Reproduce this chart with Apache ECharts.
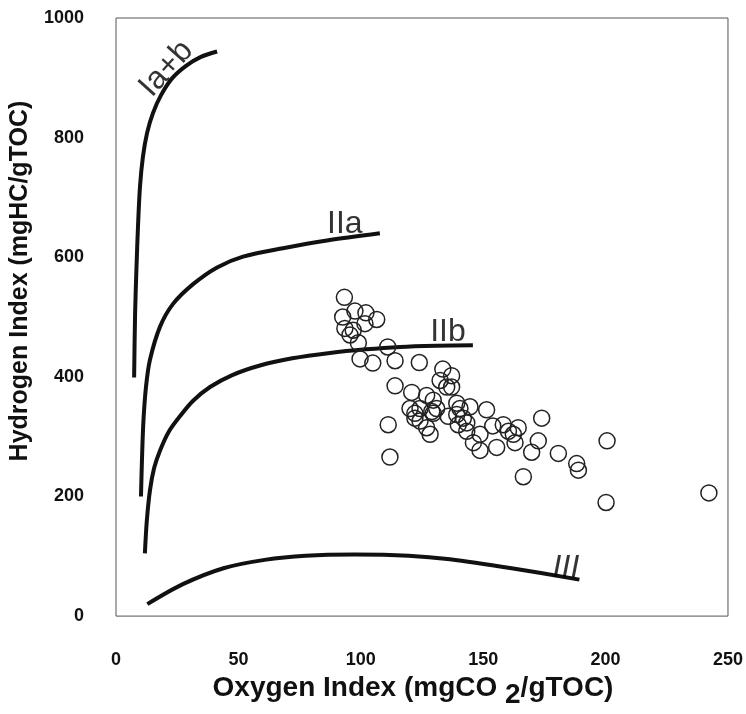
<!DOCTYPE html>
<html>
<head>
<meta charset="utf-8">
<script src="https://cdn.jsdelivr.net/npm/echarts@6/dist/echarts.min.js"></script>
<style>
html,body{margin:0;padding:0;background:#fff;}
#c{width:746px;height:714px;}
</style>
</head>
<body>
<div id="c"></div>
<script>
// Tick labels
const xTicks = [0, 50, 100, 150, 200, 250];
const yTicks = [0, 200, 400, 600, 800, 1000];

// Kerogen type boundary curves [OI, HI]
const curveIab = [[7.4,399],[7.8,506],[8.4,587],[9.0,653],[9.8,718],[11.0,768],[12.7,808],[15.1,841],[18.4,871],[22.9,899],[28.6,920],[34.7,935],[41.3,944]];
const curveIIa = [[10.2,200],[10.6,260],[11.2,326],[12.3,385],[13.9,429],[18.0,484],[23.3,522],[31.5,555],[41.3,583],[51.9,601],[68.2,615],[86.2,628],[107.8,640]];
const curveIIb = [[11.8,105],[12.6,160],[13.9,211],[15.6,248],[18.0,277],[21.5,308],[26.1,334],[31.5,360],[38.4,383],[47.5,403],[58.8,419],[72.0,431],[87.4,440],[102.0,446],[116.0,450],[131.0,452],[145.8,453]];
const curveIII = [[12.8,20],[27.1,53],[43.9,80],[60.7,94],[77.5,101],[97.6,103],[119.5,101],[136.4,95],[161.6,80],[189.3,61]];

// Curve names and where they are written [OI, HI]
const curveNames = ['Ia+b', 'IIa', 'IIb', 'III'];
const curveNamePos = [[20.6,915],[93.5,656],[135.6,474],[183.8,80]];

// Samples: Oxygen Index (mgCO2/gTOC)
const sampleOI = [93.3,92.6,97.6,102.1,106.5,101.7,93.5,96.9,95.6,99.0,111.0,99.7,104.9,114.0,123.9,133.5,137.1,132.4,135.1,114.0,120.8,126.9,129.6,137.1,120.1,122.1,124.2,129.0,131.0,139.2,140.5,144.6,151.4,122.1,124.2,129.6,135.7,139.2,141.9,143.3,139.8,126.9,128.3,143.3,148.7,146.0,148.7,153.9,158.2,160.3,164.3,162.3,155.5,163.0,173.9,172.5,169.8,180.7,188.2,188.9,166.4,111.2,111.9,200.2,242.2,200.6];
// Samples: Hydrogen Index (mgHC/gTOC)
const sampleHI = [533,500,510,507,496,489,481,478,470,457,450,430,423,427,424,413,402,394,383,385,374,369,361,383,347,339,347,342,347,356,347,350,345,331,326,339,334,337,331,323,320,315,304,309,304,290,277,318,320,309,315,304,282,290,331,293,274,272,255,244,233,320,266,190,206,293];

const samples = sampleOI.map((x, i) => [x, sampleHI[i]]);

const chart = echarts.init(document.getElementById('c'), null, {renderer: 'canvas'});
const FONT = 'Liberation Sans, Arial, sans-serif';
const INK = '#111';

function curveSeries(data) {
  return {
    type: 'line', data: data, smooth: 0.3, showSymbol: false, symbol: 'none',
    lineStyle: {color: INK, width: 4}, z: 3, silent: true
  };
}

const labelRotate = [48, 0, 0, 0];
const labelData = curveNames.map((n, i) => ({
  value: curveNamePos[i], name: n,
  label: {rotate: labelRotate[i], fontStyle: i === 3 ? 'italic' : 'normal'}
}));

chart.setOption({
  backgroundColor: '#fff',
  animation: false,
  grid: {left: 116, right: 18, top: 18, bottom: 85, show: true, borderColor: '#555', borderWidth: 1, backgroundColor: '#fff'},
  xAxis: {
    type: 'value', min: xTicks[0], max: xTicks[xTicks.length - 1], interval: 50,
    axisLine: {show: false}, axisTick: {show: false}, splitLine: {show: false},
    axisLabel: {margin: 35, fontFamily: FONT, fontWeight: 'bold', fontSize: 18, color: '#111'},
    name: '{a|Oxygen Index (mgCO }{s|2}{a|/gTOC)}',
    nameLocation: 'middle', nameGap: 55,
    nameTextStyle: {
      padding: [0, 18, 0, 0],
      rich: {
        a: {fontFamily: FONT, fontWeight: 'bold', fontSize: 28, color: '#111', verticalAlign: 'top'},
        s: {fontFamily: FONT, fontWeight: 'bold', fontSize: 28, color: '#111', verticalAlign: 'top', padding: [7, 0, 0, 0]}
      }
    }
  },
  yAxis: {
    type: 'value', min: yTicks[0], max: yTicks[yTicks.length - 1], interval: 200,
    axisLine: {show: false}, axisTick: {show: false}, splitLine: {show: false},
    axisLabel: {margin: 32, fontFamily: FONT, fontWeight: 'bold', fontSize: 18, color: '#111', formatter: v => String(v)},
    name: 'Hydrogen Index (mgHC/gTOC)',
    nameLocation: 'middle', nameGap: 47, nameRotate: 90,
    nameTextStyle: {fontFamily: FONT, fontWeight: 'bold', fontSize: 25, color: '#111', padding: [0, 0, 0, 72]}
  },
  series: [
    curveSeries(curveIab),
    curveSeries(curveIIa),
    curveSeries(curveIIb),
    curveSeries(curveIII),
    {
      type: 'scatter', data: samples, symbol: 'circle', symbolSize: 16,
      itemStyle: {color: 'rgba(0,0,0,0)', borderColor: '#222', borderWidth: 1.5, opacity: 1},
      z: 4, silent: true
    },
    {
      type: 'scatter', data: labelData, symbolSize: 0, silent: true, z: 5,
      label: {
        show: true, position: 'inside', formatter: '{b}',
        fontFamily: FONT, fontSize: 32, color: '#000'
      }
    }
  ]
});
</script>
</body>
</html>
